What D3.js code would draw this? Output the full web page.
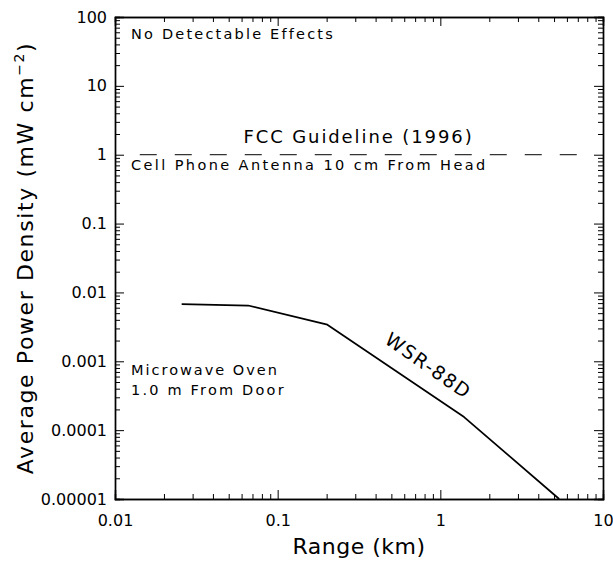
<!DOCTYPE html>
<html>
<head>
<meta charset="utf-8">
<script src="https://cdn.jsdelivr.net/npm/d3@7"></script>
<style>
  html, body { margin: 0; padding: 0; background: #fff; }
  svg { display: block; font-family: "DejaVu Sans", sans-serif; }
</style>
</head>
<body>
<svg id="chart" width="613" height="563"></svg>
<script>
// ---- Data ----
const xMajorTicks = [0.01, 0.1, 1, 10];
const xTickLabels = ["0.01", "0.1", "1", "10"];
const yMajorTicks = [1e-5, 1e-4, 1e-3, 1e-2, 1e-1, 1, 10, 100];
const yTickLabels = ["0.00001", "0.0001", "0.001", "0.01", "0.1", "1", "10", "100"];

const wsrRange = [0.0257, 0.0659, 0.202, 1.40, 5.38];      // km
const wsrPower = [0.00676, 0.00645, 0.0034, 0.000155, 0.00001]; // mW cm^-2

const fccRange = [0.0142, 6.9];
const fccPower = [1, 1];

const annotations = [
  { text: "No Detectable Effects", x: 0.01254, y: 47.9, anchor: "start", size: 14.5, ls: 2.2, rot: 0 },
  { text: "FCC Guideline (1996)", x: 0.314, y: 1.48, anchor: "middle", size: 18, ls: 1.9, rot: 0 },
  { text: "Cell Phone Antenna 10 cm From Head", x: 0.01254, y: 0.602, anchor: "start", size: 14.5, ls: 2.4, rot: 0 },
  { text: "Microwave Oven", x: 0.01254, y: 0.000637, anchor: "start", size: 14.5, ls: 2.0, rot: 0 },
  { text: "1.0 m From Door", x: 0.01254, y: 0.000327, anchor: "start", size: 14.5, ls: 2.2, rot: 0 },
  { text: "WSR-88D", x: 0.80, y: 0.00072, anchor: "middle", size: 19, ls: 1.6, rot: 35 }
];

// ---- Layout ----
(function () {
const svg = d3.select("#chart");
const mLeft = 115, mRight = 603, mTop = 17, mBottom = 499;

const x = d3.scaleLog().domain([0.01, 10]).range([mLeft, mRight]);
const y = d3.scaleLog().domain([1e-5, 100]).range([mBottom, mTop]);

function minorTicks(domain) {
  const out = [];
  const lo = Math.round(Math.log10(domain[0])), hi = Math.round(Math.log10(domain[1]));
  for (let e = lo; e < hi; e++) {
    for (let m = 2; m <= 9; m++) out.push(m * Math.pow(10, e));
  }
  return out;
}
const xMinor = minorTicks(x.domain());
const yMinor = minorTicks(y.domain());

const axisColor = "#000";
const majorLen = 9, minorLen = 5;

function styleAxis(g) {
  g.select(".domain").attr("stroke", axisColor).attr("stroke-width", 1.4);
  g.selectAll(".tick line").attr("stroke", axisColor).attr("stroke-width", 1);
}

// Bottom
svg.append("g").attr("transform", `translate(0,${mBottom})`)
  .call(d3.axisBottom(x).tickValues(xMajorTicks).tickSize(-majorLen).tickPadding(16)
    .tickFormat((d, i) => xTickLabels[i]))
  .call(styleAxis)
  .call(g => g.selectAll("text").attr("font-size", 16).attr("fill", "#000")
    .attr("font-family", "DejaVu Sans, sans-serif"));
svg.append("g").attr("transform", `translate(0,${mBottom})`)
  .call(d3.axisBottom(x).tickValues(xMinor).tickSize(-minorLen).tickFormat(""))
  .call(styleAxis);

// Top
svg.append("g").attr("transform", `translate(0,${mTop})`)
  .call(d3.axisTop(x).tickValues(xMajorTicks).tickSize(-majorLen).tickFormat(""))
  .call(styleAxis);
svg.append("g").attr("transform", `translate(0,${mTop})`)
  .call(d3.axisTop(x).tickValues(xMinor).tickSize(-minorLen).tickFormat(""))
  .call(styleAxis);

// Left
svg.append("g").attr("transform", `translate(${mLeft},0)`)
  .call(d3.axisLeft(y).tickValues(yMajorTicks).tickSize(-majorLen).tickPadding(8)
    .tickFormat((d, i) => yTickLabels[i]))
  .call(styleAxis)
  .call(g => g.selectAll("text").attr("font-size", 16).attr("fill", "#000")
    .attr("font-family", "DejaVu Sans, sans-serif"));
svg.append("g").attr("transform", `translate(${mLeft},0)`)
  .call(d3.axisLeft(y).tickValues(yMinor).tickSize(-minorLen).tickFormat(""))
  .call(styleAxis);

// Right
svg.append("g").attr("transform", `translate(${mRight},0)`)
  .call(d3.axisRight(y).tickValues(yMajorTicks).tickSize(-majorLen).tickFormat(""))
  .call(styleAxis);
svg.append("g").attr("transform", `translate(${mRight},0)`)
  .call(d3.axisRight(y).tickValues(yMinor).tickSize(-minorLen).tickFormat(""))
  .call(styleAxis);

// FCC dashed line
const line = d3.line().x(d => x(d[0])).y(d => y(d[1]));
svg.append("path")
  .datum(fccRange.map((r, i) => [r, fccPower[i]]))
  .attr("d", line)
  .attr("fill", "none").attr("stroke", "#000").attr("stroke-width", 1)
  .attr("stroke-dasharray", "17,18");

// WSR-88D curve
svg.append("path")
  .datum(wsrRange.map((r, i) => [r, wsrPower[i]]))
  .attr("d", line)
  .attr("fill", "none").attr("stroke", "#000").attr("stroke-width", 1.7)
  .attr("stroke-linejoin", "round");

// Annotations
annotations.forEach(a => {
  const px = x(a.x), py = y(a.y);
  svg.append("text")
    .attr("x", px).attr("y", py)
    .attr("text-anchor", a.anchor)
    .attr("font-size", a.size)
    .attr("letter-spacing", a.ls)
    .attr("fill", "#000")
    .attr("transform", a.rot ? `rotate(${a.rot},${px},${py})` : null)
    .text(a.text);
});

// Axis titles
svg.append("text")
  .attr("x", (mLeft + mRight) / 2).attr("y", 554)
  .attr("text-anchor", "middle").attr("font-size", 22).attr("letter-spacing", 0.5)
  .text("Range (km)");

const yt = svg.append("text")
  .attr("transform", `translate(33,${(mTop + mBottom) / 2}) rotate(-90)`)
  .attr("text-anchor", "middle").attr("font-size", 22).attr("letter-spacing", 1.6);
yt.append("tspan").text("Average Power Density (mW cm");
yt.append("tspan").attr("dy", -9).attr("font-size", 14).text("−2");
yt.append("tspan").attr("dy", 9).text(")");
})();
</script>
</body>
</html>
